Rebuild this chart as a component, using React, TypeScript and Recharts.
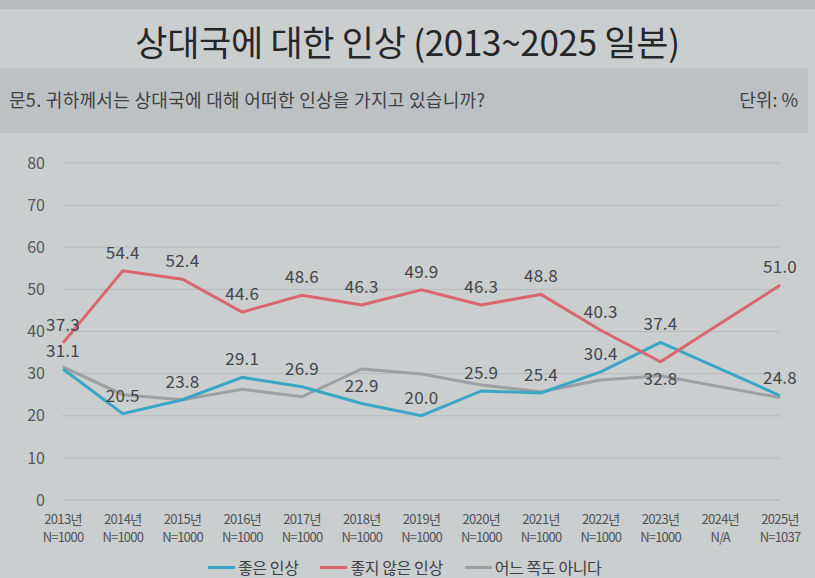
import React from "react";
import { LineChart, Line, XAxis, YAxis, CartesianGrid, LabelList } from "recharts";

const YEARS = ["2013", "2014", "2015", "2016", "2017", "2018", "2019", "2020", "2021", "2022", "2023", "2024", "2025"];
const SAMPLES = ["N=1000", "N=1000", "N=1000", "N=1000", "N=1000", "N=1000", "N=1000", "N=1000", "N=1000", "N=1000", "N=1000", "N/A", "N=1037"];
const GOOD = [31.1, 20.5, 23.8, 29.1, 26.9, 22.9, 20.0, 25.9, 25.4, 30.4, 37.4, null, 24.8];
const BAD = [37.3, 54.4, 52.4, 44.6, 48.6, 46.3, 49.9, 46.3, 48.8, 40.3, 32.8, null, 51.0];
const NEITHER = [31.6, 25.0, 23.8, 26.3, 24.5, 31.1, 29.9, 27.3, 25.7, 28.5, 29.5, null, 24.3];
const Y_TICKS = [0, 10, 20, 30, 40, 50, 60, 70, 80];

const SERIES = [
  { key: "good", name: "좋은 인상", color: "#3aa6c6" },
  { key: "bad", name: "좋지 않은 인상", color: "#d8656f" },
  { key: "neither", name: "어느 쪽도 아니다", color: "#9d9fa3" },
];

const data = YEARS.map((y, i) => ({
  year: y,
  n: SAMPLES[i],
  good: GOOD[i],
  bad: BAD[i],
  neither: NEITHER[i],
}));

const FONT = "'Noto Sans CJK KR', 'Noto Sans', sans-serif";

function YearTick({ x, y, payload, index }: any) {
  return (
    <g transform={`translate(${x},${y})`}>
      <text x={0} y={16} textAnchor="middle" fontSize={13} fill="#505255" letterSpacing={-0.7}>
        {payload.value}년
      </text>
      <text x={0} y={34} textAnchor="middle" fontSize={13} fill="#505255" letterSpacing={-0.8}>
        {SAMPLES[index]}
      </text>
    </g>
  );
}

// 2023 red label sits under its point
function makeLabel(below: number[]) {
  return (props: any) => {
    const { x, y, value, index } = props;
    if (value == null) return null;
    const dy = below.includes(index) ? 23 : -12;
    return (
      <text x={x} y={y + dy} textAnchor="middle" fontSize={17} fill="#434548" letterSpacing={0.2}>
        {Number(value).toFixed(1)}
      </text>
    );
  };
}

export default function App() {
  return (
    <div
      style={{
        position: "absolute",
        left: 0,
        top: 0,
        width: 815,
        height: 578,
        background: "#cbcecf",
        fontFamily: FONT,
        overflow: "hidden",
      }}
    >
      <div style={{ position: "absolute", left: 0, top: 0, width: 815, height: 9, background: "#b9bcbe" }} />
      <div
        style={{
          position: "absolute",
          left: 0,
          top: 15,
          width: 815,
          textAlign: "center",
          fontSize: 35,
          fontWeight: 400,
          color: "#252628",
          letterSpacing: -0.3,
        }}
      >
        상대국에 대한 인상 (2013~2025 일본)
      </div>
      <div
        style={{
          position: "absolute",
          left: 0,
          top: 68,
          width: 808,
          height: 65,
          background: "#bec1c3",
        }}
      >
        <div style={{ position: "absolute", left: 9, top: 18, fontSize: 18, color: "#3e4043", letterSpacing: 0.3 }}>
          문5. 귀하께서는 상대국에 대해 어떠한 인상을 가지고 있습니까?
        </div>
        <div style={{ position: "absolute", right: 10, top: 18, fontSize: 18, color: "#3e4043" }}>단위: %</div>
      </div>

      <div style={{ position: "absolute", left: 0, top: 0 }}>
        <LineChart width={815} height={578} data={data} margin={{ top: 163, right: 35, bottom: 33, left: 13 }}>
          <CartesianGrid horizontal vertical={false} stroke="#b7babd" strokeWidth={1} />
          <XAxis
            dataKey="year"
            tick={<YearTick />}
            tickLine={false}
            axisLine={{ stroke: "#b7babd" }}
            interval={0}
            height={45}
          />
          <YAxis
            domain={[0, 80]}
            ticks={Y_TICKS}
            tickLine={false}
            axisLine={false}
            width={50}
            tick={{ fontSize: 16, fill: "#55575a", fontFamily: FONT }}
            tickMargin={12}
          />
          <Line
            dataKey="neither"
            name="어느 쪽도 아니다"
            stroke="#9d9fa3"
            strokeWidth={3}
            dot={false}
            connectNulls
            isAnimationActive={false}
          />
          <Line
            dataKey="good"
            name="좋은 인상"
            stroke="#3aa6c6"
            strokeWidth={3}
            dot={false}
            connectNulls
            isAnimationActive={false}
          >
            <LabelList dataKey="good" content={makeLabel([])} />
          </Line>
          <Line
            dataKey="bad"
            name="좋지 않은 인상"
            stroke="#d8656f"
            strokeWidth={3}
            dot={false}
            connectNulls
            isAnimationActive={false}
          >
            <LabelList dataKey="bad" content={makeLabel([10])} />
          </Line>
        </LineChart>
      </div>

      <div
        style={{
          position: "absolute",
          left: 208,
          top: 558,
          display: "flex",
          alignItems: "center",
          fontSize: 16,
          lineHeight: "19px",
          color: "#3e4043",
          letterSpacing: -0.4,
        }}
      >
        {SERIES.map((s, i) => (
          <div key={s.key} style={{ display: "flex", alignItems: "center", marginRight: i < 2 ? 22 : 0 }}>
            <div style={{ width: 27, height: 3, background: s.color, marginRight: 3 }} />
            <span>{s.name}</span>
          </div>
        ))}
      </div>
    </div>
  );
}
